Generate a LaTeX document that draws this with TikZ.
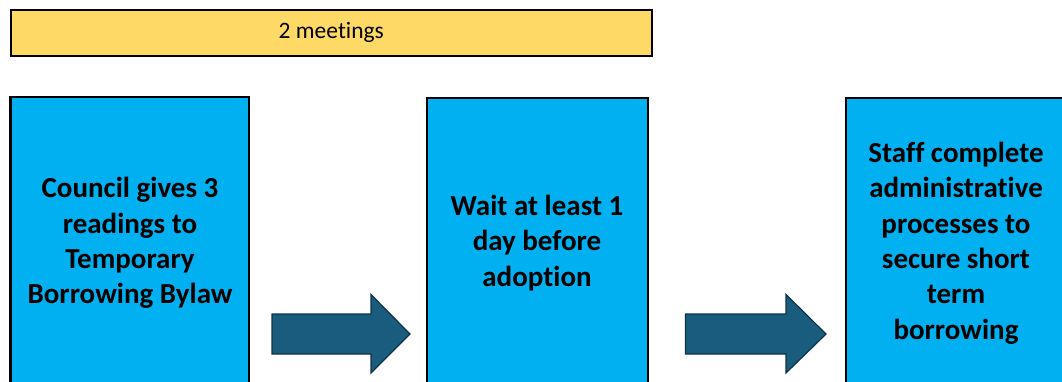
\documentclass[tikz,border=0pt]{standalone}
\usepackage{fontspec}
\setmainfont{Carlito}[Ligatures=NoCommon]
\definecolor{boxblue}{RGB}{0,176,240}
\definecolor{baryellow}{RGB}{255,217,102}
\definecolor{arrowfill}{RGB}{26,92,126}
\definecolor{arrowline}{RGB}{16,50,70}
\begin{document}
\begin{tikzpicture}[x=1pt,y=-1pt,
  stepbox/.style={draw=black,line width=2.6pt,fill=boxblue},
  steptext/.style={align=center,font=\fontsize{29}{35.4}\selectfont\bfseries,text=black,inner sep=0pt},
  bigarrow/.style={draw=arrowline,line width=1.2pt,fill=arrowfill,line join=miter}]
\useasboundingbox (0,0) rectangle (1062,381);
\clip (0,0) rectangle (1062,381);
% top bar
\node (bar) [draw=black,line width=2.6pt,fill=baryellow,minimum width=641pt,minimum height=46pt,inner sep=0pt,anchor=north west,
  font=\fontsize{23.5}{28}\selectfont] at (9.5,8.5) {\raisebox{-1pt}{2 meetings}};
% boxes
\draw[stepbox] (10.5,97) rectangle (249,400);
\draw[stepbox] (427,98) rectangle (648,400);
\draw[stepbox] (846,98) rectangle (1075,400);
\node (t1) [steptext] at (130,243) {Council gives 3\\readings to\\Temporary\\Borrowing Bylaw};
\node (t2) [steptext] at (537,243) {Wait at least 1\\day before\\adoption};
\node (t3) [steptext] at (956,243) {Staff complete\\administrative\\processes to\\secure short\\term\\borrowing};
% arrows
\draw[bigarrow] (272,314) -- (371,314) -- (371,294.5) -- (410,334) -- (371,373) -- (371,354) -- (272,354) -- cycle;
\draw[bigarrow] (685.5,314) -- (786,314) -- (786,294.5) -- (826,334) -- (786,373) -- (786,354) -- (685.5,354) -- cycle;
\end{tikzpicture}
\end{document}
